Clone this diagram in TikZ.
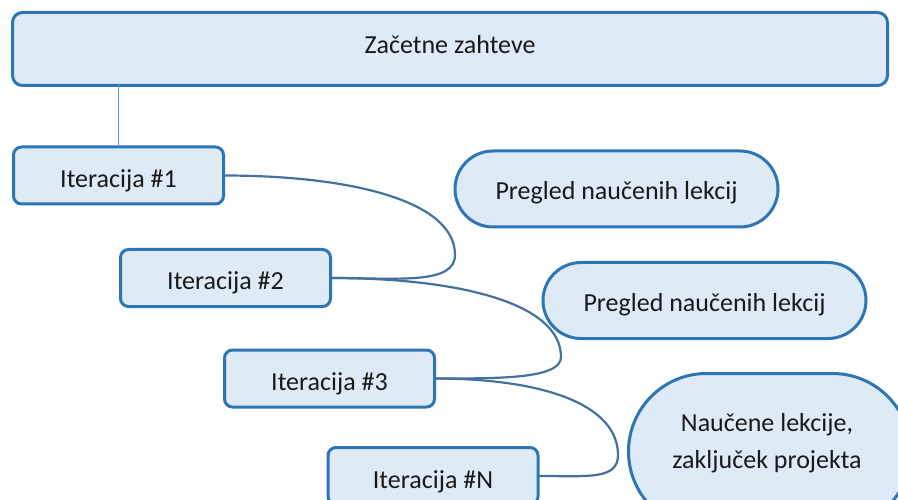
\documentclass[tikz,border=0pt]{standalone}
\usepackage{fontspec}
\setmainfont{Carlito}
\definecolor{edgeblue}{RGB}{46,117,182}
\definecolor{paleblue}{RGB}{222,234,246}
\definecolor{linkblue}{RGB}{68,114,158}
\definecolor{stemblue}{RGB}{91,155,213}
\tikzset{
  boxbase/.style={draw=edgeblue, line width=3pt, fill=paleblue, inner sep=0pt, outer sep=0pt,
    font=\fontsize{26}{37}\selectfont, text=black!90},
  itbox/.style={boxbase, rounded corners=8pt, minimum width=210pt, minimum height=57pt,
    text height=24pt, text depth=0pt},
  pill/.style={boxbase, rounded corners=38pt, minimum height=76pt, minimum width=323pt,
    text height=22pt, text depth=0pt},
  caption/.style={font=\fontsize{26}{37}\selectfont, text=black!90, inner sep=0pt},
  link/.style={draw=linkblue, line width=2.2pt},
  stem/.style={draw=stemblue, line width=1pt}
}
\begin{document}
\begin{tikzpicture}[x=1pt,y=-1pt]
\useasboundingbox (0,0) rectangle (898,500);
\clip (0,0) rectangle (898,500);

% header
\node[boxbase, rounded corners=10pt, minimum width=875pt, minimum height=73pt] (top) at (450,49) {};
\node[caption, anchor=base] (toptext) at (450,53.3) {Začetne zahteve};

% iterations
\node[itbox] (it1) at (118.5,175.5) {Iteracija \#1};
\node[itbox] (it2) at (225.5,278) {Iteracija \#2};
\node[itbox] (it3) at (329.5,378.5) {Iteracija \#3};
\node[itbox] (itN) at (433,476) {Iteracija \#N};

% reviews
\node[pill] (rev1) at (616.5,189) {Pregled naučenih lekcij};
\node[pill] (rev2) at (704.5,300.5) {Pregled naučenih lekcij};
\node[boxbase, rounded corners=78pt, minimum width=282pt, minimum height=156pt] (final) at (769.5,451.5) {};
\node[caption, align=center] (finaltext) at (767,443) {Naučene lekcije,\\zaključek projekta};

% stem from header to first iteration
\draw[stem] (it1.north) -- (it1.north |- top.south);

% loops between iterations
\coordinate (b1) at (455,255);
\coordinate (b2) at (561,357);
\coordinate (b3) at (618,455);
\draw[link] (it1.east) .. controls +(125,0) and +(0,-55) .. (b1)
  .. controls +(0,30) and +(67,0) .. (it2.east);
\draw[link] (it2.east) .. controls +(125,0) and +(0,-55) .. (b2)
  .. controls +(0,22) and +(65,0) .. (it3.east);
\draw[link] (it3.east) .. controls +(110,0) and +(0,-50) .. (b3)
  .. controls +(0,25) and +(50,0) .. (itN.east);
\end{tikzpicture}
\end{document}
